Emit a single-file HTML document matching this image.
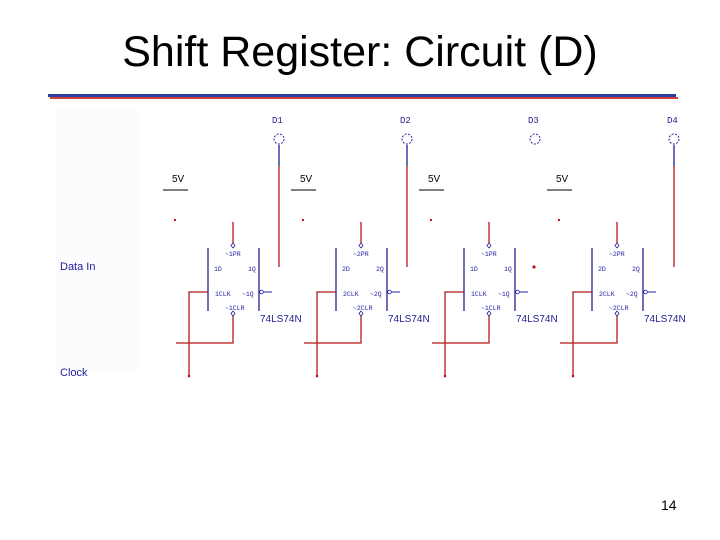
<!DOCTYPE html>
<html><head><style>
body{margin:0;background:#fff;width:720px;height:540px;overflow:hidden;}
svg{display:block}
</style></head><body>
<svg width="720" height="540" xmlns="http://www.w3.org/2000/svg" font-family="Liberation Sans, sans-serif">
<text x="360" y="66" font-size="43" text-anchor="middle" fill="#000">Shift Register: Circuit (D)</text>
<rect x="48" y="94" width="628" height="3" fill="#2b3f9a"/>
<rect x="50" y="97" width="628" height="2" fill="#d04040"/>
<rect x="55" y="110" width="85" height="260" fill="#fcfcfe"/>
<text x="60" y="270" font-size="11" fill="#20209a">Data  In</text>
<text x="60" y="376" font-size="11" fill="#20209a">Clock</text>
<g font-family="Liberation Mono, monospace" font-size="9" fill="#20209a">
<text x="272" y="123">D1</text><text x="400" y="123">D2</text><text x="528" y="123">D3</text><text x="667" y="123">D4</text>
</g>
<g fill="none" stroke="#20209a" stroke-dasharray="2,1.5">
<circle cx="279" cy="139" r="5"/><circle cx="407" cy="139" r="5"/><circle cx="535" cy="139" r="5"/><circle cx="674" cy="139" r="5"/>
</g>
<g stroke-width="1.3">
<line x1="279" y1="145" x2="279" y2="166" stroke="#20209a"/><line x1="279" y1="166" x2="279" y2="267" stroke="#b81818"/>
<line x1="407" y1="145" x2="407" y2="166" stroke="#20209a"/><line x1="407" y1="166" x2="407" y2="267" stroke="#b81818"/>
<line x1="674" y1="145" x2="674" y2="166" stroke="#20209a"/><line x1="674" y1="166" x2="674" y2="267" stroke="#b81818"/>
</g>
<circle cx="534" cy="267" r="1.6" fill="#b81818"/>

<g id="b">
<text x="172" y="182" font-size="10" fill="#000">5V</text>
<line x1="163" y1="190" x2="188" y2="190" stroke="#000"/>
<circle cx="175" cy="220" r="1.2" fill="#b81818"/>
<line x1="208" y1="248" x2="208" y2="311" stroke="#20209a" stroke-width="1.3"/>
<line x1="259" y1="248" x2="259" y2="311" stroke="#20209a" stroke-width="1.3"/>
<line x1="233" y1="222" x2="233" y2="243" stroke="#b81818" stroke-width="1.3"/>
<path d="M233 243 l2 2.5 -2 2.5 -2 -2.5z M233 311 l2 2.5 -2 2.5 -2 -2.5z" fill="none" stroke="#20209a" stroke-width="0.8"/>
<polyline points="233,316 233,343 176,343" fill="none" stroke="#b81818" stroke-width="1.3"/>
<polyline points="208,292 189,292 189,376" fill="none" stroke="#b81818" stroke-width="1.3"/>
<circle cx="189" cy="376" r="1.3" fill="#b81818"/>
<circle cx="261.5" cy="292" r="1.8" fill="none" stroke="#20209a" stroke-width="0.8"/>
<line x1="263" y1="292" x2="272" y2="292" stroke="#20209a"/>
<text x="260" y="322" font-size="10" fill="#20209a">74LS74N</text>
</g>
<use href="#b" x="128"/><use href="#b" x="256"/><use href="#b" x="384"/>
<g font-family="Liberation Mono, monospace" font-size="6.5" fill="#20209a">
<text x="225" y="256">~1PR</text><text x="214" y="271">1D</text><text x="248" y="271">1Q</text><text x="215" y="296">1CLK</text><text x="242" y="296">~1Q</text><text x="225" y="310">~1CLR</text>
<text x="353" y="256">~2PR</text><text x="342" y="271">2D</text><text x="376" y="271">2Q</text><text x="343" y="296">2CLK</text><text x="370" y="296">~2Q</text><text x="353" y="310">~2CLR</text>
<text x="481" y="256">~1PR</text><text x="470" y="271">1D</text><text x="504" y="271">1Q</text><text x="471" y="296">1CLK</text><text x="498" y="296">~1Q</text><text x="481" y="310">~1CLR</text>
<text x="609" y="256">~2PR</text><text x="598" y="271">2D</text><text x="632" y="271">2Q</text><text x="599" y="296">2CLK</text><text x="626" y="296">~2Q</text><text x="609" y="310">~2CLR</text>
</g>
<text x="661" y="510" font-size="14" fill="#000">14</text>
</svg>
</body></html>
